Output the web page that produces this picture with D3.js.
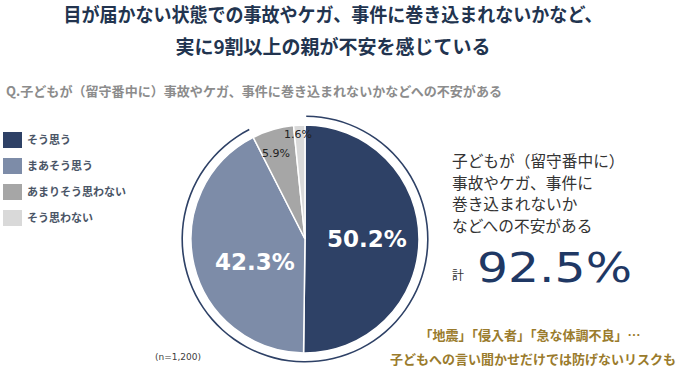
<!DOCTYPE html>
<html>
<head>
<meta charset="utf-8">
<script src="https://d3js.org/d3.v7.min.js"></script>
<style>
  body { margin: 0; background: #fff; }
  text { font-family: "Noto Sans CJK JP", "Noto Sans", sans-serif; }
</style>
</head>
<body>
<svg id="svg" width="680" height="375"></svg>
<script>
  // data
  var categories = ["そう思う", "まあそう思う", "あまりそう思わない", "そう思わない"];
  var values = [50.2, 42.3, 5.9, 1.6];
  var colors = ["#2e4166", "#7d8ca8", "#a6a6a6", "#d9d9d9"];
  var total = 92.5;
  var titleLines = ["目が届かない状態での事故やケガ、事件に巻き込まれないかなど、", "実に9割以上の親が不安を感じている"];
  var question = "Q.子どもが（留守番中に）事故やケガ、事件に巻き込まれないかなどへの不安がある";
  var sideLines = ["子どもが（留守番中に）", "事故やケガ、事件に", "巻き込まれないか", "などへの不安がある"];
  var noteLines = ["「地震」「侵入者」「急な体調不良」…", "子どもへの言い聞かせだけでは防げないリスクも"];

  var svg = d3.select("#svg");
  var color = d3.scaleOrdinal().domain(categories).range(colors);

  // title
  svg.append("text").attr("x", 333).attr("y", 22).attr("text-anchor", "middle")
    .attr("font-size", 19).attr("font-weight", "bold").attr("fill", "#22344f")
    .attr("textLength", 539).attr("lengthAdjust", "spacingAndGlyphs").text(titleLines[0]);
  svg.append("text").attr("x", 333).attr("y", 54).attr("text-anchor", "middle")
    .attr("font-size", 19).attr("font-weight", "bold").attr("fill", "#22344f").text(titleLines[1]);

  svg.append("text").attr("x", 6).attr("y", 96).attr("font-size", 13).attr("font-weight", "bold")
    .attr("fill", "#8c8c8c").attr("textLength", 496).attr("lengthAdjust", "spacingAndGlyphs").text(question);

  // legend
  var leg = svg.append("g").selectAll("g").data(categories).join("g")
    .attr("transform", (d, i) => "translate(3," + (132 + i * 26) + ")");
  leg.append("rect").attr("width", 19).attr("height", 16).attr("fill", d => color(d));
  leg.append("text").attr("x", 24).attr("y", 12).attr("font-size", 11).attr("font-weight", "bold")
    .attr("fill", "#4a5566").text(d => d);

  // pie
  var cx = 305, cy = 239, r = 114;
  var pie = d3.pie().sort(null).value(d => d);
  var arcs = pie(values);
  var arc = d3.arc().innerRadius(0).outerRadius(r);
  var g = svg.append("g").attr("transform", "translate(" + cx + "," + cy + ")");
  g.selectAll("path").data(arcs).join("path")
    .attr("d", arc).attr("fill", (d, i) => colors[i])
    .attr("stroke", "#fff").attr("stroke-width", 1.5);

  // ring around the "agree" share
  var ringEnd = d3.scaleLinear().domain([0, 100]).range([0, 2 * Math.PI]);
  g.append("path")
    .attr("d", d3.arc().innerRadius(122).outerRadius(123.6).startAngle(0.01).endAngle(ringEnd(total))())
    .attr("fill", "#2e4166");

  // big labels
  var bigPos = [[62, 8], [-50, 31]];
  g.selectAll("text.big").data(arcs.slice(0, 2)).join("text")
    .attr("class", "big")
    .attr("x", (d, i) => bigPos[i][0]).attr("y", (d, i) => bigPos[i][1])
    .attr("text-anchor", "middle").attr("fill", "#fff")
    .style("font-family", "'DejaVu Sans', sans-serif").attr("font-size", 23).attr("font-weight", "bold")
    .text(d => d3.format(".1f")(d.data) + "%");
  var smallPos = [[-29, -82], [-7, -101]];
  g.selectAll("text.small").data(arcs.slice(2)).join("text")
    .attr("class", "small")
    .attr("x", (d, i) => smallPos[i][0]).attr("y", (d, i) => smallPos[i][1])
    .attr("text-anchor", "middle").attr("fill", "#222")
    .style("font-family", "'DejaVu Sans', sans-serif").attr("font-size", 11)
    .text(d => d3.format(".1f")(d.data) + "%");

  svg.append("text").attr("x", 155).attr("y", 360).attr("font-size", 9).attr("fill", "#404040")
    .style("font-family", "'DejaVu Sans', sans-serif").text("(n=1,200)");

  // side note
  svg.append("g").selectAll("text").data(sideLines).join("text")
    .attr("x", 452).attr("y", (d, i) => 167 + i * 21.5)
    .attr("font-size", 15.7).attr("fill", "#333").text(d => d);
  svg.append("text").attr("x", 452).attr("y", 280).attr("font-size", 12).attr("fill", "#333").text("計");
  svg.append("text").attr("x", 477).attr("y", 282).attr("fill", "#1f3864")
    .style("font-family", "'DejaVu Sans', sans-serif").attr("font-size", 40)
    .attr("textLength", 155).attr("lengthAdjust", "spacingAndGlyphs")
    .text(d3.format(".1f")(total) + "%");

  svg.append("g").selectAll("text").data(noteLines).join("text")
    .attr("x", (d, i) => i ? 533 : 530).attr("y", (d, i) => 340 + i * 24)
    .attr("text-anchor", "middle").attr("font-size", 13).attr("font-weight", "bold")
    .attr("fill", "#9a7b2c").text(d => d);
</script>
</body>
</html>
